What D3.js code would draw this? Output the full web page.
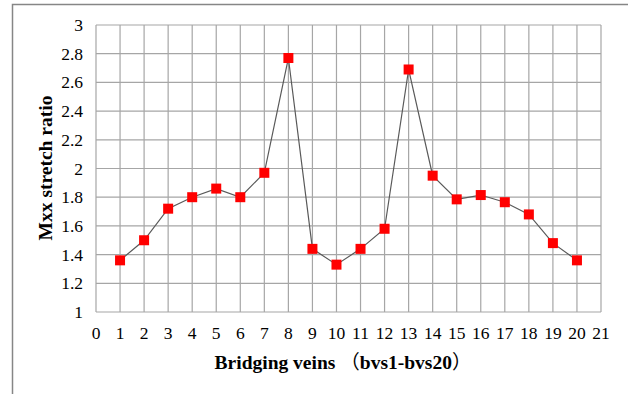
<!DOCTYPE html>
<html lang="en">
<head>
<meta charset="UTF-8">
<title>Mxx stretch ratio of bridging veins</title>
<script src="https://d3js.org/d3.v7.min.js"></script>
<style>
    body { margin: 0; padding: 0; background: #fff; }
    svg { display: block; }
</style>
</head>
<body>
<svg id="chart" width="628" height="394" font-family="'Liberation Serif', 'DejaVu Serif', serif"></svg>
<script>
    // bridging vein index and Mxx stretch ratio
    const veins = d3.range(1, 21);
    const ratios = [1.36, 1.50, 1.72, 1.80, 1.86, 1.80, 1.97, 2.77, 1.44, 1.33,
                    1.44, 1.58, 2.69, 1.95, 1.785, 1.815, 1.765, 1.68, 1.48, 1.36];
    const xTicks = d3.range(0, 22);
    const yTicks = [1, 1.2, 1.4, 1.6, 1.8, 2, 2.2, 2.4, 2.6, 2.8, 3];

    const serif = "'Liberation Serif', 'DejaVu Serif', serif";
    const svg = d3.select('#chart');
    const plotL = 96, plotR = 601, plotT = 25, plotB = 312;

    // outer frame
    svg.append('path')
        .attr('d', 'M12.5,394 V4.5 H628')
        .attr('fill', 'none')
        .attr('stroke', '#868686')
        .attr('stroke-width', 1.5);

    const x = d3.scaleLinear().domain([0, 21]).range([plotL, plotR]);
    const y = d3.scaleLinear().domain([1, 3]).range([plotB, plotT]);

    // grid
    svg.append('g').selectAll('line')
        .data(xTicks)
        .enter().append('line')
        .attr('x1', d => x(d)).attr('x2', d => x(d))
        .attr('y1', plotT).attr('y2', plotB)
        .attr('stroke', '#a6a6a6').attr('stroke-width', 1.2);
    svg.append('g').selectAll('line')
        .data(yTicks)
        .enter().append('line')
        .attr('x1', plotL).attr('x2', plotR)
        .attr('y1', d => y(d)).attr('y2', d => y(d))
        .attr('stroke', '#a6a6a6').attr('stroke-width', 1.2);

    // tick labels
    svg.append('g').selectAll('text')
        .data(yTicks)
        .enter().append('text')
        .attr('x', 83)
        .attr('y', d => y(d) + 6)
        .attr('text-anchor', 'end')
        .attr('font-family', serif)
        .attr('font-size', 17.5)
        .text(d => d);
    svg.append('g').selectAll('text')
        .data(xTicks)
        .enter().append('text')
        .attr('x', d => x(d))
        .attr('y', 339)
        .attr('text-anchor', 'middle')
        .attr('font-family', serif)
        .attr('font-size', 17.5)
        .text(d => d);

    // series
    const line = d3.line()
        .x((d, i) => x(veins[i]))
        .y(d => y(d));
    svg.append('path')
        .datum(ratios)
        .attr('fill', 'none')
        .attr('stroke', '#595959')
        .attr('stroke-width', 1.2)
        .attr('d', line);
    svg.append('g').selectAll('rect')
        .data(ratios)
        .enter().append('rect')
        .attr('x', (d, i) => x(veins[i]) - 5)
        .attr('y', d => y(d) - 5)
        .attr('width', 10).attr('height', 10)
        .attr('fill', '#ff0000');

    // axis titles
    const xt = svg.append('text')
        .attr('x', 343)
        .attr('y', 369)
        .attr('text-anchor', 'middle')
        .attr('font-family', serif)
        .attr('font-size', 19.5)
        .attr('font-weight', 'bold');
    xt.append('tspan').text('Bridging veins ');
    xt.append('tspan').attr('font-family', "'Noto Sans CJK SC'").attr('font-weight', 'normal').text('（');
    xt.append('tspan').text('bvs1-bvs20');
    xt.append('tspan').attr('font-family', "'Noto Sans CJK SC'").attr('font-weight', 'normal').text('）');

    svg.append('text')
        .attr('transform', 'translate(52,168) rotate(-90)')
        .attr('text-anchor', 'middle')
        .attr('font-family', serif)
        .attr('font-size', 19.5)
        .attr('font-weight', 'bold')
        .text('Mxx stretch ratio');
</script>
</body>
</html>
